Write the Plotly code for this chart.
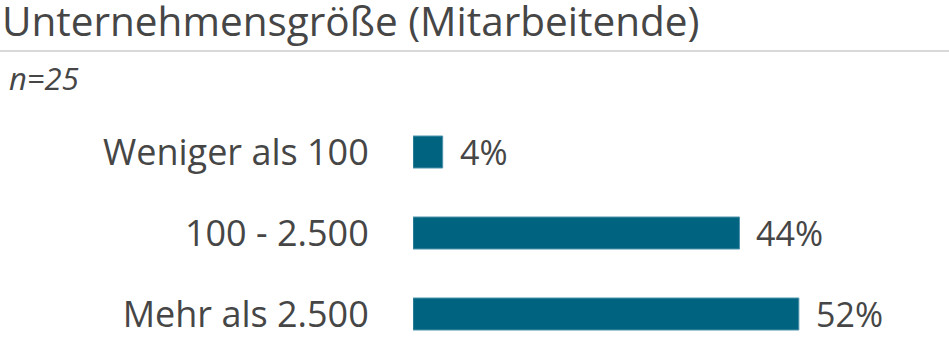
import plotly.graph_objects as go

categories = ["Weniger als 100", "100 - 2.500", "Mehr als 2.500"]
values = [4, 44, 52]
value_labels = ["4%", "44%", "52%"]
title_text = "Unternehmensgröße (Mitarbeitende)"
subtitle_text = "n=25"

W, H = 949, 340
ML, MR, MT, MB = 413, 0, 100, 0
PH = H - MT - MB
px_per_pct = 7.42
xmax = (W - ML - MR) / px_per_pct

bar_color = "#006480"
text_color = "#464646"
font_family = "Open Sans"

fig = go.Figure()
fig.add_trace(go.Bar(
    y=categories, x=values, orientation="h",
    marker=dict(color=bar_color, line=dict(color="#4f93ab", width=1)),
    width=0.395, hoverinfo="skip",
))

annotations = [
    dict(x=v, y=c, xref="x", yref="y", text=t, showarrow=False,
         xanchor="left", yanchor="middle", xshift=15,
         font=dict(family=font_family, size=34, color=text_color))
    for c, v, t in zip(categories, values, value_labels)
]
annotations.append(dict(text="<i>" + subtitle_text + "</i>", xref="paper", yref="paper",
                        x=-(ML - 7) / (W - ML), xanchor="left",
                        y=1 + 22 / PH, yanchor="middle", showarrow=False,
                        font=dict(family=font_family, size=31, color=text_color)))

fig.update_layout(
    width=W, height=H,
    margin=dict(l=ML, r=MR, t=MT, b=MB, pad=0),
    paper_bgcolor="white", plot_bgcolor="white",
    showlegend=False,
    font=dict(family=font_family, color=text_color),
    title=dict(text=title_text, x=0.002, xanchor="left", xref="container",
               y=1, yanchor="top", yref="container", pad=dict(t=8),
               font=dict(family=font_family, size=40.5, color=text_color)),
    xaxis=dict(range=[0, xmax], visible=False, fixedrange=True),
    yaxis=dict(
        categoryorder="array", categoryarray=categories,
        range=[2.321, -0.642], showgrid=False, zeroline=False, showline=False,
        ticks="outside", ticklen=36, tickcolor="rgba(0,0,0,0)",
        tickfont=dict(family=font_family, size=36, color=text_color),
        fixedrange=True,
    ),
    shapes=[dict(type="line", xref="paper", yref="paper",
                 x0=-ML / (W - ML), x1=1, y0=1 + 49 / PH, y1=1 + 49 / PH,
                 line=dict(color="#d9d9d9", width=2))],
    annotations=annotations,
)

fig.write_html("out.html")
